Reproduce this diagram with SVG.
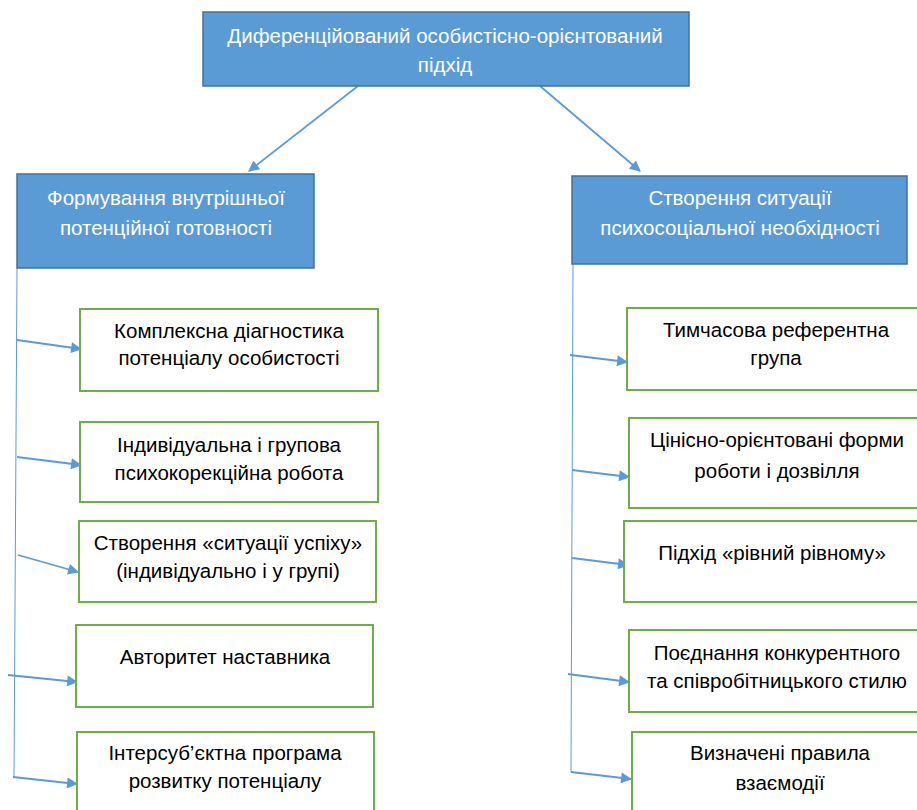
<svg xmlns="http://www.w3.org/2000/svg" width="917" height="810" viewBox="0 0 917 810">
<defs>
<marker id="ah" viewBox="0 0 10 10" refX="9" refY="5" markerWidth="15" markerHeight="11" markerUnits="userSpaceOnUse" orient="auto">
<path d="M0,0 L10,5 L0,10 z" fill="#5B9BD5"/>
</marker>
<style>
.blue{fill:#5B9BD5;stroke:#41719C;stroke-width:1.5}
.green{fill:#FFFFFF;stroke:#70AD47;stroke-width:2}
.wt{font-family:"Liberation Sans",Arial,sans-serif;font-size:20.5px;fill:#FFFFFF;text-anchor:middle}
.bt{font-family:"Liberation Sans",Arial,sans-serif;font-size:20.5px;fill:#000000;text-anchor:middle}
.arr{stroke:#5B9BD5;stroke-width:1.8;fill:none;marker-end:url(#ah)}
.ln{stroke:#5B9BD5;stroke-width:1;fill:none}
</style>
</defs>
<rect width="917" height="810" fill="#FFFFFF"/>
<g id="connectors">
<line class="arr" x1="358" y1="86" x2="249" y2="171"/>
<line class="arr" x1="540" y1="86" x2="640" y2="171"/>
<line class="ln" x1="17" y1="268" x2="14" y2="777"/>
<line class="ln" x1="573" y1="264" x2="571" y2="772"/>
<line class="arr" x1="17" y1="340" x2="81" y2="349"/>
<line class="arr" x1="17" y1="457" x2="81" y2="465"/>
<line class="arr" x1="18" y1="555" x2="78" y2="572"/>
<line class="arr" x1="8" y1="675" x2="77" y2="682"/>
<line class="arr" x1="13" y1="777" x2="77" y2="784"/>
<line class="arr" x1="570" y1="355" x2="627" y2="362"/>
<line class="arr" x1="572" y1="470" x2="629" y2="477"/>
<line class="arr" x1="572" y1="558" x2="628" y2="565"/>
<line class="arr" x1="568" y1="674" x2="629" y2="682"/>
<line class="arr" x1="571" y1="772" x2="631" y2="779"/>
</g>
<g id="root">
<rect class="blue" x="203" y="12" width="486" height="74"/>
<text class="wt" x="445" y="43">Диференційований особистісно-орієнтований</text>
<text class="wt" x="445" y="72">підхід</text>
</g>
<g id="left-head">
<rect class="blue" x="17" y="174" width="297" height="94"/>
<text class="wt" x="166" y="205">Формування внутрішньої</text>
<text class="wt" x="166" y="235">потенційної готовності</text>
</g>
<g id="right-head">
<rect class="blue" x="572" y="176" width="335" height="88"/>
<text class="wt" x="740" y="205">Створення ситуації</text>
<text class="wt" x="740" y="235">психосоціальної необхідності</text>
</g>
<g id="l1">
<rect class="green" x="80" y="309" width="298" height="82"/>
<text class="bt" x="229" y="338">Комплексна діагностика</text>
<text class="bt" x="229" y="365">потенціалу особистості</text>
</g>
<g id="l2">
<rect class="green" x="80" y="422" width="298" height="80"/>
<text class="bt" x="229" y="452">Індивідуальна і групова</text>
<text class="bt" x="229" y="480">психокорекційна робота</text>
</g>
<g id="l3">
<rect class="green" x="79" y="521" width="297" height="81"/>
<text class="bt" x="228" y="550">Створення «ситуації успіху»</text>
<text class="bt" x="228" y="578">(індивідуально і у групі)</text>
</g>
<g id="l4">
<rect class="green" x="76" y="625" width="297" height="82"/>
<text class="bt" x="225" y="664">Авторитет наставника</text>
</g>
<g id="l5">
<rect class="green" x="77" y="732" width="297" height="90"/>
<text class="bt" x="225" y="760">Інтерсуб’єктна програма</text>
<text class="bt" x="225" y="788">розвитку потенціалу</text>
</g>
<g id="r1">
<rect class="green" x="627" y="308" width="298" height="82"/>
<text class="bt" x="776" y="337">Тимчасова референтна</text>
<text class="bt" x="776" y="365">група</text>
</g>
<g id="r2">
<rect class="green" x="629" y="418" width="298" height="90"/>
<text class="bt" x="777" y="447">Цінісно-орієнтовані форми</text>
<text class="bt" x="777" y="478">роботи і дозвілля</text>
</g>
<g id="r3">
<rect class="green" x="624" y="521" width="300" height="81"/>
<text class="bt" x="772" y="560">Підхід «рівний рівному»</text>
</g>
<g id="r4">
<rect class="green" x="629" y="630" width="298" height="82"/>
<text class="bt" x="777" y="660">Поєднання конкурентного</text>
<text class="bt" x="777" y="688">та співробітницького стилю</text>
</g>
<g id="r5">
<rect class="green" x="632" y="732" width="298" height="90"/>
<text class="bt" x="780" y="760">Визначені правила</text>
<text class="bt" x="780" y="790">взаємодії</text>
</g>
</svg>
